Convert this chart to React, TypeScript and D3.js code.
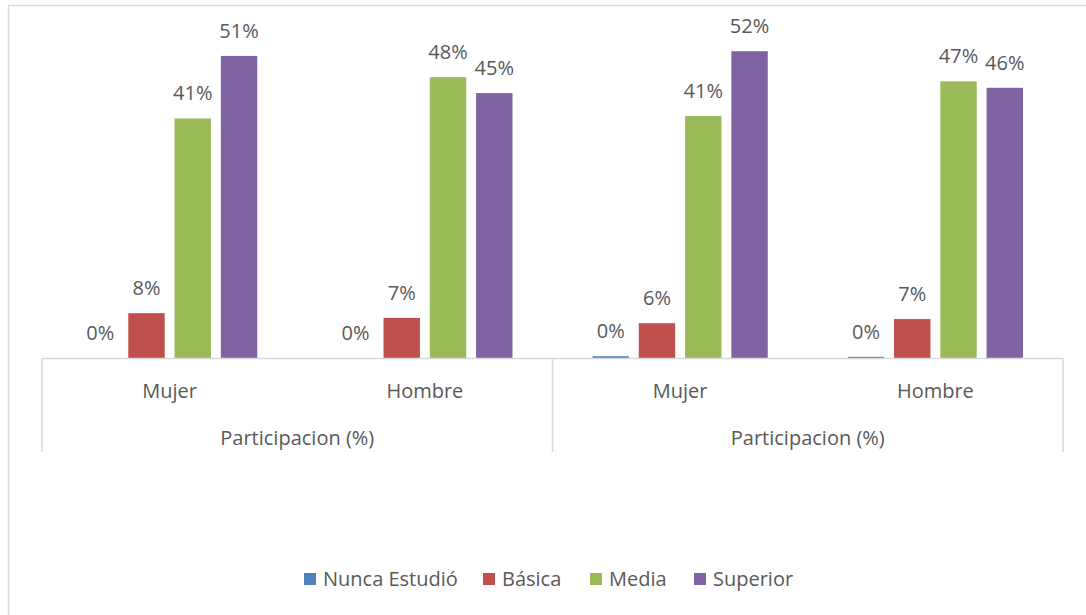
import React from "react";
import * as d3 from "d3";

const groups = ["Participacion (%)", "Participacion (%)"];
const subcategories = ["Mujer", "Hombre"];
const seriesNames = ["Nunca Estudió", "Básica", "Media", "Superior"];
const seriesColors = ["#4f81bd", "#c0504d", "#9bbb59", "#8064a2"];
// values per series, in order: G1 Mujer, G1 Hombre, G2 Mujer, G2 Hombre
const nuncaEstudio = [0, 0, 0.3, 0.2];
const basica = [7.6, 6.8, 5.9, 6.6];
const media = [40.6, 47.6, 41.0, 46.9];
const superior = [51.2, 44.9, 52.0, 45.8];
const seriesValues = [nuncaEstudio, basica, media, superior];

const W = 1086;
const H = 615;
const FONT = "'Open Sans', sans-serif";
const TXT = "#595959";
const GRID = "#d9d9d9";
const FS = 20;

export default function App() {
  const left = 42;
  const right = 1063;
  const baseline = 358;
  const cats = groups.flatMap((g, gi) => subcategories.map((s, si) => `${gi}-${si}`));
  const x = d3.scaleBand<string>().domain(cats).range([left, right]).padding(0);
  const xg = d3.scaleBand<string>().domain(groups.map((_, i) => String(i))).range([left, right]).padding(0);
  const inner = d3
    .scaleBand<string>()
    .domain(seriesNames)
    .range([40, x.bandwidth() - 40])
    .paddingInner(0.213)
    .paddingOuter(0);
  const y = d3.scaleLinear().domain([0, 60]).range([baseline, baseline - 354]);

  const legendX = [304, 483, 590, 694];

  return (
    <svg
      width={W}
      height={H}
      style={{ position: "absolute", left: 0, top: 0, background: "#fff" }}
      fontFamily={FONT}
    >
      <rect x={8.5} y={5.5} width={W} height={H} fill="#fff" stroke={GRID} strokeWidth={1.5} />
      {/* bars */}
      {seriesValues.map((vals, si) =>
        vals.map((v, ci) => {
          const bx = (x(cats[ci]) as number) + (inner(seriesNames[si]) as number);
          const top = y(v);
          return (
            <g key={`${si}-${ci}`}>
              {v > 0 && (
                <rect x={bx} y={top} width={inner.bandwidth()} height={baseline - top} fill={seriesColors[si]} />
              )}
              <text
                x={bx + inner.bandwidth() / 2}
                y={top - 18}
                textAnchor="middle"
                fontSize={FS}
                fill={TXT}
              >
                {`${Math.round(v)}%`}
              </text>
            </g>
          );
        })
      )}
      {/* axis */}
      <line x1={left} x2={right} y1={baseline + 0.5} y2={baseline + 0.5} stroke={GRID} strokeWidth={1.5} />
      {[0, 1, 2].map((i) => {
        const xx = i < 2 ? (xg(String(i)) as number) : right;
        return <line key={i} x1={xx} x2={xx} y1={baseline} y2={452} stroke={GRID} strokeWidth={1.5} />;
      })}
      {cats.map((c, ci) => (
        <text
          key={c}
          x={(x(c) as number) + x.bandwidth() / 2}
          y={398}
          textAnchor="middle"
          fontSize={FS}
          fill={TXT}
        >
          {subcategories[ci % 2]}
        </text>
      ))}
      {groups.map((g, gi) => (
        <text
          key={gi}
          x={(xg(String(gi)) as number) + xg.bandwidth() / 2}
          y={445}
          textAnchor="middle"
          fontSize={FS}
          fill={TXT}
        >
          {g}
        </text>
      ))}
      {/* legend */}
      {seriesNames.map((s, i) => (
        <g key={s}>
          <rect x={legendX[i]} y={573} width={12} height={12} fill={seriesColors[i]} />
          <text x={legendX[i] + 19} y={586} fontSize={FS} fill={TXT}>
            {s}
          </text>
        </g>
      ))}
    </svg>
  );
}
